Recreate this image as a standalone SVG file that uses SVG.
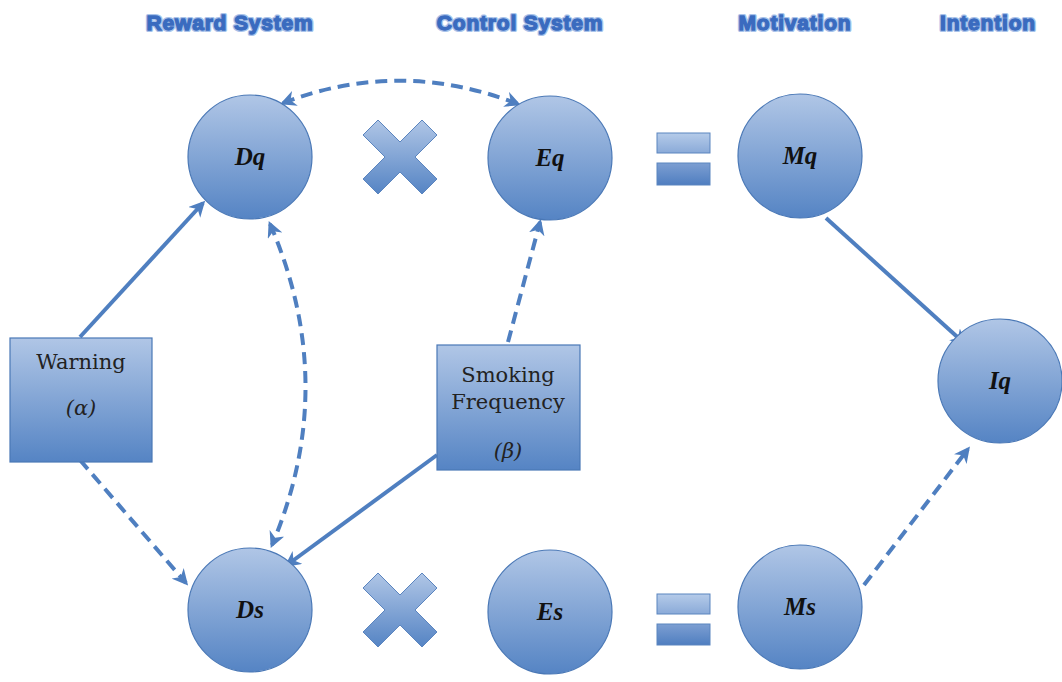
<svg xmlns="http://www.w3.org/2000/svg" width="1062" height="682" viewBox="0 0 1062 682">
<defs>
<linearGradient id="g" x1="0" y1="0" x2="0" y2="1">
<stop offset="0" stop-color="#b0c6e6"/>
<stop offset="1" stop-color="#5584c4"/>
</linearGradient>
<linearGradient id="gl" x1="0" y1="0" x2="0" y2="1">
<stop offset="0" stop-color="#b5cbe9"/>
<stop offset="1" stop-color="#8aaad8"/>
</linearGradient>
<linearGradient id="gd" x1="0" y1="0" x2="0" y2="1">
<stop offset="0" stop-color="#7d9fd2"/>
<stop offset="1" stop-color="#4f7ec0"/>
</linearGradient>
<marker id="ah" viewBox="0 0 10 10" refX="8" refY="5" markerWidth="4" markerHeight="4" orient="auto-start-reverse" markerUnits="strokeWidth">
<path d="M0,0 L10,5 L0,10 L3,5 Z" fill="#4f7fc0"/>
</marker>
<g id="xs"><path d="M-22,-37 L0,-15 L22,-37 L37,-22 L15,0 L37,22 L22,37 L0,15 L-22,37 L-37,22 L-15,0 L-37,-22 Z" stroke-linejoin="round"/></g>
</defs>
<style>
.hd{font-family:"Liberation Sans",Arial,sans-serif;font-weight:bold;font-size:21px;letter-spacing:0.8px;fill:#3a6bbf;stroke:#3a6bbf;stroke-width:1.3px;text-anchor:middle}
.hg{font-family:"Liberation Sans",Arial,sans-serif;font-weight:bold;font-size:21px;letter-spacing:0.8px;fill:none;stroke:#a9c3ea;stroke-width:4px;stroke-linejoin:round;text-anchor:middle}
.nd{fill:url(#g);stroke:#4a78b6;stroke-width:1.2}
.nt{font-family:"Liberation Serif","Times New Roman",serif;font-weight:bold;font-style:italic;font-size:25px;fill:#111;text-anchor:middle}
.bt{font-family:"DejaVu Serif","Liberation Serif",serif;font-size:21px;fill:#222;text-anchor:middle}
.ar{fill:none;stroke:#4f7fc0;stroke-width:4;marker-end:url(#ah)}
.dash{stroke-dasharray:12,7}
.both{marker-start:url(#ah)}
.sym{fill:url(#g);stroke:#5b85bf;stroke-width:1}
</style>
<g id="headers">
<text class="hg" x="230" y="30">Reward System</text>
<text class="hg" x="520" y="30">Control  System</text>
<text class="hg" x="795" y="30">Motivation</text>
<text class="hg" x="988" y="30">Intention</text>
<text class="hd" x="230" y="30">Reward System</text>
<text class="hd" x="520" y="30">Control  System</text>
<text class="hd" x="795" y="30">Motivation</text>
<text class="hd" x="988" y="30">Intention</text>
</g>
<g id="symbols">
<use href="#xs" x="400" y="157" class="sym"/>
<use href="#xs" x="400" y="610" class="sym"/>
<rect x="657" y="133" width="53" height="20" fill="url(#gl)" stroke="#5b85bf"/>
<rect x="657" y="163" width="53" height="22" fill="url(#gd)" stroke="#5b85bf"/>
<rect x="657" y="594" width="53" height="20" fill="url(#gl)" stroke="#5b85bf"/>
<rect x="657" y="624" width="53" height="21" fill="url(#gd)" stroke="#5b85bf"/>
</g>
<g id="connectors">
<path class="ar" d="M80,337 L203,203"/>
<path class="ar dash" d="M80,460 L186,583"/>
<path class="ar dash both" d="M283,103 Q400,58 518,104"/>
<path class="ar dash both" d="M270,224 Q340,385 272,545"/>
<path class="ar dash" d="M508,342 L540,222"/>
<path class="ar" d="M437,455 L287,565"/>
<path class="ar" d="M826,218 L964,343"/>
<path class="ar dash" d="M864,585 L968,449"/>
</g>
<g id="Dq"><circle class="nd" cx="250" cy="157" r="62"/><text class="nt" x="250" y="165">Dq</text></g>
<g id="Eq"><circle class="nd" cx="550" cy="158" r="62"/><text class="nt" x="550" y="166">Eq</text></g>
<g id="Mq"><circle class="nd" cx="800" cy="156" r="62"/><text class="nt" x="800" y="164">Mq</text></g>
<g id="Iq"><circle class="nd" cx="1000" cy="381" r="62"/><text class="nt" x="1000" y="389">Iq</text></g>
<g id="Ds"><circle class="nd" cx="250" cy="610" r="62"/><text class="nt" x="250" y="618">Ds</text></g>
<g id="Es"><circle class="nd" cx="550" cy="612" r="62"/><text class="nt" x="550" y="620">Es</text></g>
<g id="Ms"><circle class="nd" cx="800" cy="607" r="62"/><text class="nt" x="800" y="615">Ms</text></g>
<g id="Warning"><rect class="nd" x="10" y="338" width="142" height="124"/>
<text class="bt" x="81" y="369">Warning</text>
<text class="bt" x="81" y="415" font-style="italic">(α)</text></g>
<g id="Smoking"><rect class="nd" x="437" y="345" width="143" height="125"/>
<text class="bt" x="508" y="382">Smoking</text>
<text class="bt" x="508" y="409">Frequency</text>
<text class="bt" x="508" y="458" font-style="italic">(β)</text></g>
</svg>
